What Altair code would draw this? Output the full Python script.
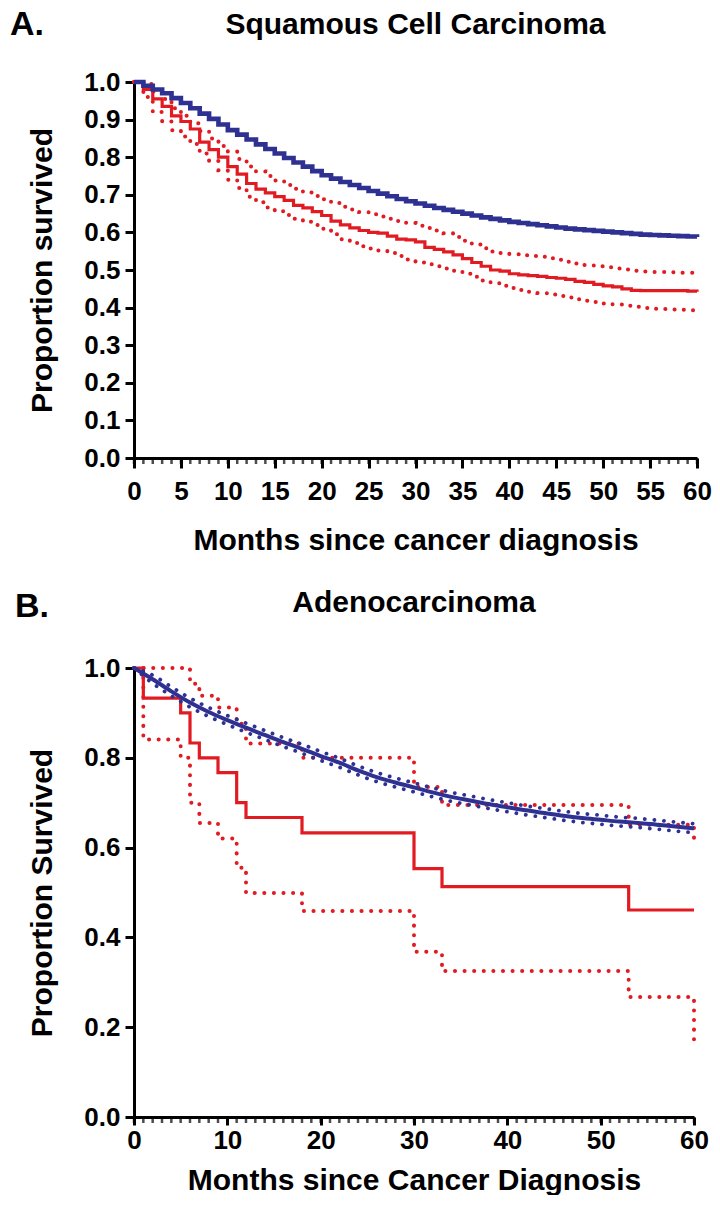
import altair as alt
import pandas as pd

RED = "#e11b22"
BLUE = "#2e3192"
FONT = "Liberation Sans"

# ---------------- Panel A: Squamous Cell Carcinoma ----------------
months_a = list(range(61))
blue_a = [1.0, 0.99, 0.98, 0.97, 0.957, 0.944, 0.93, 0.916, 0.902, 0.887, 0.872,
          0.86, 0.847, 0.834, 0.822, 0.81, 0.798, 0.786, 0.775, 0.763, 0.752,
          0.743, 0.734, 0.726, 0.718, 0.71, 0.703, 0.696, 0.689, 0.683, 0.677,
          0.671, 0.665, 0.66, 0.655, 0.65, 0.645, 0.64, 0.636, 0.632, 0.628,
          0.625, 0.622, 0.619, 0.616, 0.613, 0.61, 0.608, 0.606, 0.604, 0.602,
          0.6, 0.598, 0.596, 0.594, 0.593, 0.592, 0.591, 0.59, 0.589, 0.588]
red_a = [1.0, 0.98, 0.955, 0.935, 0.91, 0.895, 0.875, 0.84, 0.82, 0.80, 0.775,
         0.755, 0.73, 0.715, 0.705, 0.695, 0.685, 0.672, 0.665, 0.655, 0.645,
         0.63, 0.62, 0.612, 0.605, 0.60, 0.598, 0.59, 0.582, 0.58, 0.575,
         0.56, 0.555, 0.548, 0.54, 0.53, 0.52, 0.51, 0.50, 0.497, 0.49,
         0.487, 0.485, 0.483, 0.48, 0.478, 0.475, 0.47, 0.467, 0.462, 0.458,
         0.455, 0.45, 0.446, 0.445, 0.445, 0.445, 0.445, 0.445, 0.444, 0.442]
red_a_upper = [1.0, 0.995, 0.975, 0.955, 0.93, 0.91, 0.89, 0.87, 0.85, 0.83, 0.815,
               0.795, 0.775, 0.762, 0.75, 0.738, 0.726, 0.716, 0.706, 0.697, 0.688,
               0.678, 0.668, 0.661, 0.654, 0.648, 0.642, 0.636, 0.63, 0.625, 0.618,
               0.612, 0.605, 0.598, 0.588, 0.578, 0.568, 0.558, 0.549, 0.545, 0.542,
               0.539, 0.537, 0.535, 0.531, 0.527, 0.522, 0.517, 0.513, 0.51, 0.507,
               0.504, 0.501, 0.498, 0.496, 0.495, 0.495, 0.494, 0.493, 0.493, 0.492]
red_a_lower = [1.0, 0.96, 0.92, 0.895, 0.872, 0.855, 0.835, 0.81, 0.79, 0.765, 0.74,
               0.718, 0.695, 0.68, 0.666, 0.656, 0.646, 0.636, 0.628, 0.62, 0.61,
               0.595, 0.582, 0.572, 0.563, 0.557, 0.552, 0.545, 0.537, 0.528, 0.52,
               0.515, 0.51, 0.504, 0.498, 0.49, 0.482, 0.472, 0.465, 0.458, 0.452,
               0.447, 0.442, 0.439, 0.435, 0.431, 0.427, 0.422, 0.418, 0.415, 0.411,
               0.408, 0.405, 0.402, 0.399, 0.397, 0.396, 0.395, 0.394, 0.393, 0.392]

# ---------------- Panel B: Adenocarcinoma ----------------
b_red_t = [0, 1, 5, 6, 7, 9, 11, 12, 18, 30, 33, 53, 60]
b_red = [1.0, 0.933, 0.9, 0.833, 0.8, 0.767, 0.7, 0.667, 0.633, 0.553, 0.513, 0.461, 0.461]
b_up_t = [0, 6, 7, 9, 11, 12, 18, 30, 33, 53, 60]
b_up = [1.0, 0.965, 0.938, 0.912, 0.876, 0.832, 0.80, 0.735, 0.695, 0.651, 0.607]
b_lo_t = [0, 1, 5, 6, 7, 9, 11, 12, 18, 30, 33, 53, 60]
b_lo = [1.0, 0.841, 0.80, 0.70, 0.655, 0.62, 0.555, 0.499, 0.459, 0.368, 0.325, 0.267, 0.16]
b_blue_t = list(range(0, 61, 2))
b_blue = [1.0, 0.975, 0.948, 0.923, 0.902, 0.884, 0.867, 0.851, 0.835, 0.82, 0.804,
          0.789, 0.772, 0.757, 0.745, 0.734, 0.723, 0.713, 0.705, 0.697, 0.69,
          0.683, 0.677, 0.671, 0.666, 0.662, 0.658, 0.655, 0.651, 0.647, 0.643]
b_blue_up = [1.0, 0.984, 0.958, 0.933, 0.912, 0.894, 0.877, 0.861, 0.845, 0.83, 0.814,
             0.799, 0.782, 0.767, 0.755, 0.744, 0.733, 0.723, 0.715, 0.707, 0.70,
             0.693, 0.687, 0.681, 0.676, 0.672, 0.668, 0.665, 0.661, 0.657, 0.653]
b_blue_lo = [1.0, 0.966, 0.938, 0.913, 0.892, 0.874, 0.857, 0.841, 0.825, 0.81, 0.794,
             0.779, 0.762, 0.747, 0.735, 0.724, 0.713, 0.703, 0.695, 0.687, 0.68,
             0.673, 0.667, 0.661, 0.656, 0.652, 0.648, 0.645, 0.641, 0.637, 0.633]

minor_months = list(range(61))

WA, HA = 563, 376
WB, HB = 560, 449
DOT = [0.1, 9.5]


def make_panel(width, height, letter, letter_x, letter_y, title, title_y,
               xlabel, ylabel, xstep, ystep, solid, dotted, blue_solid, blue_dotted,
               blue_interp, red_interp, xtick, xlabpad, xtitlepad, blue_w):
    xaxis = alt.Axis(values=list(range(0, 61, xstep)), title=xlabel, tickSize=xtick,
                     tickWidth=3, domainWidth=3, labelFontSize=26, labelFontWeight="bold",
                     titleFontSize=30, titleFontWeight="bold", labelPadding=xlabpad,
                     titlePadding=xtitlepad, labelFlush=False, labelOverlap=False, grid=False)
    nvals = int(round(1 / ystep))
    yaxis = alt.Axis(values=[round(i * ystep, 2) for i in range(nvals + 1)], format=".1f",
                     title=ylabel, tickSize=9, tickWidth=3, domainWidth=3,
                     labelFontSize=26, labelFontWeight="bold", titleFontSize=30,
                     titleFontWeight="bold", labelPadding=5, titlePadding=26,
                     labelFlush=False, labelOverlap=False, grid=False)
    xs = alt.Scale(domain=[0, 60], nice=False, zero=False)
    ys = alt.Scale(domain=[0, 1], nice=False)

    def enc():
        return dict(x=alt.X("m:Q", scale=xs, axis=xaxis),
                    y=alt.Y("v:Q", scale=ys, axis=yaxis))

    layers = []
    for df in dotted:
        layers.append(alt.Chart(df).mark_line(interpolate=red_interp, color=RED,
                                              strokeWidth=4, strokeDash=DOT,
                                              strokeCap="round").encode(**enc()))
    layers.append(alt.Chart(solid).mark_line(interpolate=red_interp, color=RED,
                                             strokeWidth=3.2).encode(**enc()))
    for df in blue_dotted:
        layers.append(alt.Chart(df).mark_line(interpolate=blue_interp, color=BLUE,
                                              strokeWidth=3.8, strokeDash=DOT,
                                              strokeCap="round").encode(**enc()))
    layers.append(alt.Chart(blue_solid).mark_line(interpolate=blue_interp, color=BLUE,
                                                  strokeWidth=blue_w).encode(**enc()))
    ticks = pd.DataFrame({"m": minor_months})
    layers.append(alt.Chart(ticks).mark_tick(color="black", thickness=2.5, size=6,
                                             orient="vertical", yOffset=3).encode(
        x=alt.X("m:Q", scale=xs, axis=xaxis),
        y=alt.value(height)))
    lab = pd.DataFrame({"t": [letter]})
    layers.append(alt.Chart(lab).mark_text(align="left", baseline="top", fontSize=34,
                                           fontWeight="bold", font=FONT, color="black").encode(
        text="t:N", x=alt.value(letter_x), y=alt.value(letter_y)))
    ttl = pd.DataFrame({"t": [title]})
    layers.append(alt.Chart(ttl).mark_text(align="center", baseline="top", fontSize=30,
                                           fontWeight="bold", font=FONT, color="black").encode(
        text="t:N", x=alt.value(width / 2), y=alt.value(title_y)))
    return alt.layer(*layers).properties(width=width, height=height)


dfa_red = pd.DataFrame({"m": months_a, "v": red_a})
dfa_up = pd.DataFrame({"m": months_a, "v": red_a_upper})
dfa_lo = pd.DataFrame({"m": months_a, "v": red_a_lower})
dfa_blue = pd.DataFrame({"m": months_a, "v": blue_a})

panel_a = make_panel(WA, HA, "A.", -124, -74, "Squamous Cell Carcinoma", -72,
                     "Months since cancer diagnosis", "Proportion survived", 5, 0.1,
                     dfa_red, [dfa_up, dfa_lo], dfa_blue, [], "step-after", "step-after",
                     10, 10, 21, 4.6)

dfb_red = pd.DataFrame({"m": b_red_t, "v": b_red})
dfb_up = pd.DataFrame({"m": b_up_t, "v": b_up})
dfb_lo = pd.DataFrame({"m": b_lo_t, "v": b_lo})
dfb_blue = pd.DataFrame({"m": b_blue_t, "v": b_blue})
dfb_bup = pd.DataFrame({"m": b_blue_t, "v": b_blue_up})
dfb_blo = pd.DataFrame({"m": b_blue_t, "v": b_blue_lo})

panel_b = make_panel(WB, HB, "B.", -119, -78, "Adenocarcinoma", -80,
                     "Months since Cancer Diagnosis", "Proportion Survived", 10, 0.2,
                     dfb_red, [dfb_up, dfb_lo], dfb_blue, [dfb_bup, dfb_blo],
                     "monotone", "step-after", 8, 2, 12, 4)

chart = alt.vconcat(panel_a, panel_b, spacing=33).properties(
    padding={"left": 2, "top": 0, "right": 0, "bottom": 0}
).configure_view(stroke=None).configure_axis(
    domainColor="black", tickColor="black", labelColor="black", titleColor="black",
    labelFont=FONT, titleFont=FONT
).configure_concat(spacing=33)

chart.save("out.html", embed_options={"renderer": "svg", "actions": False})
